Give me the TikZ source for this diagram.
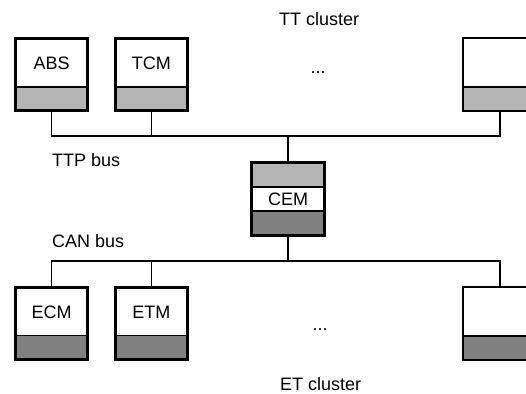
\documentclass[tikz,border=0pt]{standalone}
\usepackage{fontspec}
\setmainfont{Liberation Sans}
\definecolor{lg}{RGB}{180,180,180}
\definecolor{dg}{RGB}{128,128,128}
\begin{document}
\begin{tikzpicture}[x=1pt,y=1pt,
  font=\fontsize{18}{21}\selectfont,
  band/.style={path picture={
    \fill[#1] (path picture bounding box.south west) rectangle ([yshift=24pt]path picture bounding box.south east);
    \draw[line width=1.5pt] ([yshift=24pt]path picture bounding box.south west) -- ([yshift=24pt]path picture bounding box.south east);}},
  unit/.style={draw, line width=3pt, minimum width=72.5pt, minimum height=72.6pt,
    inner sep=0pt, text height=13pt, text depth=22pt, band=#1},
  unitR/.style={unit=#1, line width=2pt, minimum width=73.5pt, minimum height=73.5pt},
  cemunit/.style={draw, line width=3pt, minimum width=73pt, minimum height=73pt,
    inner sep=0pt, text height=13pt, text depth=0pt,
    path picture={
      \fill[lg] ([yshift=-24.5pt]path picture bounding box.north west) rectangle (path picture bounding box.north east);
      \fill[dg] (path picture bounding box.south west) rectangle ([yshift=24.5pt]path picture bounding box.south east);
      \draw[line width=1.5pt] ([yshift=-24.5pt]path picture bounding box.north west) -- ([yshift=-24.5pt]path picture bounding box.north east);
      \draw[line width=1.5pt] ([yshift=24.5pt]path picture bounding box.south west) -- ([yshift=24.5pt]path picture bounding box.south east);}},
  bus/.style={line width=1.2pt},
  lbl/.style={anchor=base west, inner sep=0pt}
]
\useasboundingbox (0,0) rectangle (526,393);
\clip (0,0) rectangle (526,393);
\node[unit=lg] (abs) at (51.7,318.5) {ABS};
\node[unit=lg] (tcm) at (151.3,318.5) {TCM};
\node[unitR=lg] (tt3) at (500,318.5) {};
\node[unit=dg] (ecm) at (51.7,69.6) {ECM};
\node[unit=dg] (etm) at (151.3,69.6) {ETM};
\node[unitR=dg] (et3) at (500,69.6) {};
\node[cemunit] (cem) at (288,194) {CEM};
\coordinate (ttp) at (0,257);
\coordinate (can) at (0,132);
\draw[bus] (abs.south) |- (tt3.south |- ttp) -- (tt3.south);
\draw[bus] (tcm.south) -- (tcm.south |- ttp);
\draw[bus] (cem.north) -- (cem.north |- ttp);
\draw[bus] (ecm.north) |- (et3.north |- can) -- (et3.north);
\draw[bus] (etm.north) -- (etm.north |- can);
\draw[bus] (cem.south) -- (cem.south |- can);
\node[lbl] (ttplbl) at (52,226) {TTP bus};
\node[lbl] (canlbl) at (52,145) {CAN bus};
\node[lbl] (ttc) at (279,367.5) {TT cluster};
\node[lbl] (etc) at (280,3) {ET cluster};
\node[anchor=base, inner sep=0pt] (d1) at (318,319) {...};
\node[anchor=base, inner sep=0pt] (d2) at (320,63) {...};
\end{tikzpicture}
\end{document}
